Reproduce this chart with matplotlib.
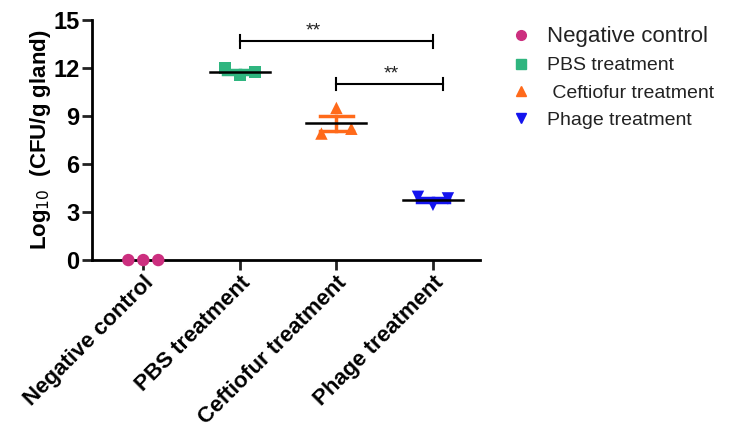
import numpy as np
import matplotlib.pyplot as plt
from matplotlib.lines import Line2D

plt.rcParams['font.family'] = ['Liberation Sans', 'DejaVu Sans']

groups = ['Negative control', 'PBS treatment', 'Ceftiofur treatment', 'Phage treatment']
legend_labels = ['Negative control', 'PBS treatment', ' Ceftiofur treatment', 'Phage treatment']
values = [
    [0.0, 0.0, 0.0],
    [12.0, 11.55, 11.75],
    [7.9, 9.5, 8.2],
    [3.95, 3.45, 3.85],
]
colors = ['#cc2f7f', '#2fb57f', '#ff6a1a', '#1414ee']
markers = ['o', 's', '^', 'v']
jitter = [-0.155, 0.0, 0.155]

# significance brackets: (group a, group b, y, star x)
sig = [(1, 3, 13.65, 1.76), (2, 3.1, 11.0, 2.57)]

fig = plt.figure(figsize=(7.31, 4.32), dpi=100)
ax = fig.add_axes([0.126, 0.398, 0.531, 0.556])

for i, (vals, c, m) in enumerate(zip(values, colors, markers)):
    xs = [i + j for j in jitter]
    ax.scatter(xs, vals, s=80, marker=m, color=c, zorder=3, clip_on=False,
               edgecolors='none')
    v = np.array(vals)
    mean = v.mean()
    sem = v.std(ddof=1) / np.sqrt(len(v))
    if mean > 0:
        ax.plot([i - 0.31, i + 0.31], [mean, mean], color='black', lw=1.8, zorder=4)
        ax.plot([i - 0.17, i + 0.17], [mean + sem] * 2, color=c, lw=2.5, zorder=2)
        ax.plot([i - 0.17, i + 0.17], [mean - sem] * 2, color=c, lw=2.5, zorder=2)
        ax.plot([i, i], [mean - sem, mean + sem], color=c, lw=2.5, zorder=2)

for a, b, y, sx in sig:
    ax.plot([a, b], [y, y], color='black', lw=1.5)
    ax.plot([a, a], [y - 0.4, y + 0.4], color='black', lw=1.5)
    ax.plot([b, b], [y - 0.4, y + 0.4], color='black', lw=1.5)
    ax.text(sx, y + 0.1, '**', ha='center', va='bottom', fontsize=14, color='#222222')

ax.set_xlim(-0.53, 3.49)
ax.set_ylim(0, 15)
ax.set_yticks([0, 3, 6, 9, 12, 15])
ax.set_xticks(range(len(groups)))
ax.set_xticklabels(groups, rotation=45, ha='right', rotation_mode='anchor',
                   fontsize=16, fontweight='bold')
for t in ax.get_yticklabels():
    t.set_fontsize(17)
    t.set_fontweight('bold')
ax.set_ylabel('Log$_{10}$  (CFU/g gland)', fontsize=16, fontweight='bold', labelpad=0)
for s in ['top', 'right']:
    ax.spines[s].set_visible(False)
for s in ['left', 'bottom']:
    ax.spines[s].set_linewidth(2)
ax.tick_params(width=2, length=7, color='#222222', pad=2)

handles = [Line2D([], [], marker=m, color=c, linestyle='none', markersize=7)
           for m, c in zip(markers, colors)]
leg = fig.legend(handles, legend_labels, loc='upper left', bbox_to_anchor=(0.673, 0.98),
                 frameon=False, fontsize=14, handletextpad=0.75, labelspacing=0.5,
                 handlelength=1.2)
leg.get_texts()[0].set_fontsize(16)
for t in leg.get_texts():
    t.set_color('#222222')

fig.savefig('out.png', dpi=100)
